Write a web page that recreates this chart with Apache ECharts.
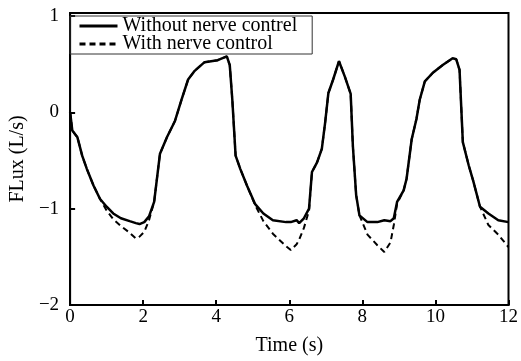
<!DOCTYPE html>
<html>
<head>
<meta charset="utf-8">
<script src="https://cdn.jsdelivr.net/npm/echarts@6/dist/echarts.min.js"></script>
<style>
  html, body { margin: 0; padding: 0; background: #fff; }
  #chart { width: 521px; height: 361px; }
</style>
</head>
<body>
<div id="chart"></div>
<script>
// time (s)
const times = [0, 0.06, 0.2, 0.33, 0.46, 0.64, 0.82, 1.0, 1.18, 1.39, 1.63, 1.8, 1.9, 2.03, 2.16, 2.3, 2.46,
  2.65, 2.87, 3.05, 3.23, 3.41, 3.68, 4.04, 4.29, 4.37, 4.44, 4.53, 4.66, 4.84, 5.06, 5.29, 5.55, 5.91,
  6.04, 6.2, 6.27, 6.4, 6.54, 6.62, 6.76, 6.89, 6.98, 7.07, 7.2, 7.36, 7.52, 7.68, 7.74, 7.83, 7.92,
  8.14, 8.41, 8.6, 8.77, 8.86, 8.95, 9.13, 9.21, 9.35, 9.48, 9.57, 9.71, 9.93, 10.2, 10.47, 10.57,
  10.66, 10.75, 10.91, 11.04, 11.22, 11.45, 11.72, 12.0];

// 无神经控制
const withoutNerve = [0, -0.19, -0.26, -0.45, -0.59, -0.76, -0.90, -0.98, -1.05, -1.10, -1.13, -1.15, -1.16, -1.14, -1.08, -0.93, -0.43,
  -0.26, -0.09, 0.13, 0.34, 0.43, 0.52, 0.54, 0.58, 0.49, 0.13, -0.45, -0.59, -0.76, -0.95, -1.05, -1.12, -1.14,
  -1.14, -1.12, -1.15, -1.10, -1.0, -0.62, -0.52, -0.38, -0.11, 0.20, 0.34, 0.53, 0.37, 0.19, -0.35, -0.86, -1.07,
  -1.14, -1.14, -1.12, -1.13, -1.10, -0.93, -0.81, -0.69, -0.28, -0.07, 0.13, 0.32, 0.41, 0.49, 0.56, 0.55,
  0.44, -0.31, -0.55, -0.72, -0.98, -1.05, -1.12, -1.14];

// 有神经控制
const withNerve = [0, -0.19, -0.26, -0.45, -0.59, -0.76, -0.90, -1.02, -1.11, -1.18, -1.25, -1.31, -1.29, -1.24, -1.12, -0.93, -0.43,
  -0.26, -0.09, 0.13, 0.34, 0.43, 0.52, 0.54, 0.58, 0.49, 0.13, -0.45, -0.59, -0.76, -0.96, -1.13, -1.26, -1.39,
  -1.43, -1.37, -1.32, -1.20, -1.02, -0.62, -0.52, -0.38, -0.11, 0.20, 0.34, 0.53, 0.37, 0.19, -0.35, -0.86, -1.07,
  -1.27, -1.38, -1.45, -1.35, -1.17, -0.95, -0.81, -0.69, -0.28, -0.07, 0.13, 0.32, 0.41, 0.49, 0.56, 0.55,
  0.44, -0.31, -0.55, -0.72, -0.98, -1.17, -1.27, -1.40];

const yTickLabels = ["\u22122", "\u22121", "0", "1"];

const font = "'Liberation Serif', 'Times New Roman', serif";

const chart = echarts.init(document.getElementById("chart"));

chart.setOption({
  animation: false,
  grid: {
    left: 66,
    right: 6,
    top: 13,
    bottom: 54,
    show: true,
    borderColor: "#000",
    borderWidth: 2
  },
  legend: {
    left: 70,
    top: 16,
    orient: "vertical",
    itemGap: -2,
    itemWidth: 38,
    itemHeight: 14,
    itemTextGap: 8,
    padding: [0, 15, 0, 8],
    borderColor: "#333",
    borderWidth: 1,
    itemStyle: { opacity: 0 },
    lineStyle: { width: 3 },
    textStyle: {
      fontFamily: font,
      fontSize: 20,
      lineHeight: 18,
      color: "#000"
    },
    data: ["Without nerve contrel", "With nerve control"]
  },
  xAxis: {
    type: "value",
    min: 0,
    max: 12,
    interval: 2,
    name: "Time (s)",
    nameLocation: "middle",
    nameGap: 31,
    nameTextStyle: { fontFamily: font, fontSize: 20, color: "#000" },
    axisLine: { onZero: false, lineStyle: { color: "#000", width: 2 } },
    axisTick: { show: true, inside: true, length: 5, lineStyle: { color: "#000", width: 2 } },
    axisLabel: { margin: 3, fontFamily: font, fontSize: 19, color: "#000" },
    splitLine: { show: false }
  },
  yAxis: {
    type: "value",
    min: -2,
    max: 1.03,
    interval: 1,
    name: "FLux (L/s)",
    nameLocation: "middle",
    nameGap: 34,
    nameTextStyle: { fontFamily: font, fontSize: 20, color: "#000" },
    axisLine: { onZero: false, lineStyle: { color: "#000", width: 2 } },
    axisTick: { show: true, inside: true, length: 5, lineStyle: { color: "#000", width: 2 } },
    axisLabel: {
      margin: 11,
      fontFamily: font,
      fontSize: 19,
      color: "#000",
      showMaxLabel: false,
      formatter: (v) => (Number.isInteger(v) ? yTickLabels[v + 2] : "")
    },
    splitLine: { show: false }
  },
  series: [
    {
      name: "Without nerve contrel",
      type: "line",
      symbol: "none",
      data: times.map((t, i) => [t, withoutNerve[i]]),
      z: 3,
      lineStyle: { color: "#000", width: 2.5 },
      itemStyle: { color: "#000" }
    },
    {
      name: "With nerve control",
      type: "line",
      symbol: "none",
      data: times.map((t, i) => [t, withNerve[i]]),
      z: 2,
      lineStyle: { color: "#000", width: 2, type: [6, 4] },
      itemStyle: { color: "#000" }
    }
  ]
});
</script>
</body>
</html>
